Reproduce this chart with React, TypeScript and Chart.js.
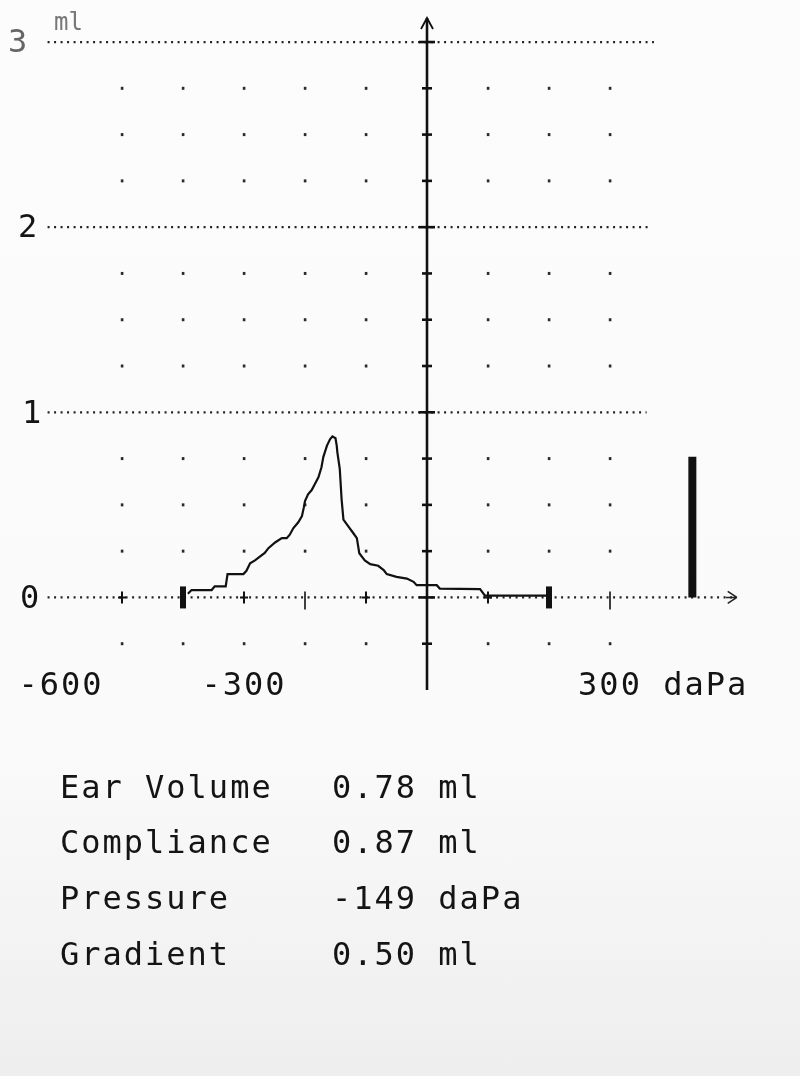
import React, { useEffect, useRef } from "react";
import { Chart, registerables } from "chart.js";

Chart.register(...registerables);

// Tympanogram curve: pressure (daPa) vs compliance (ml)
const pressureDaPa = [
  -392, -386, -353, -348, -330, -327, -301, -296, -290, -282, -274, -266, -260, -249, -238, -230,
  -225, -219, -211, -205, -202, -200, -195, -189, -184, -178, -173, -170, -164, -159, -155, -150,
  -148, -147, -143, -140, -137, -129, -121, -115, -111, -102, -93, -80, -71, -66, -50, -33, -22,
  -17, 16, 21, 87, 95, 200,
];
const complianceMl = [
  0.02, 0.04, 0.04, 0.06, 0.06, 0.126, 0.126, 0.144, 0.184, 0.2, 0.22, 0.24, 0.266, 0.297, 0.32,
  0.32, 0.339, 0.375, 0.406, 0.439, 0.485, 0.52, 0.557, 0.58, 0.612, 0.649, 0.703, 0.758, 0.82,
  0.854, 0.87, 0.86, 0.82, 0.785, 0.694, 0.53, 0.42, 0.384, 0.348, 0.32, 0.239, 0.2, 0.18, 0.171,
  0.148, 0.126, 0.111, 0.102, 0.084, 0.066, 0.066, 0.048, 0.045, 0.01, 0.01,
];

// Ear volume indicator bar
const earVolumePosition = [435, 435];
const earVolumeBar = [0, 0.76];

// Axis labels
const yTickValues = [0, 1, 2, 3];
const yTickLabels = ["0", "1", "2", "3"];
const xLabelValues = [-600, -300, 300];
const xLabelTexts = ["-600", "-300", "300"];
const xUnit = "daPa";
const yUnit = "ml";

// Dot grid
const gridColumns = [-500, -400, -300, -200, -100, 100, 200, 300];
const gridRows = [-0.25, 0.25, 0.5, 0.75, 1.25, 1.5, 1.75, 2.25, 2.5, 2.75];
const boldTicks = [-400, 200];
const plusTicks = [-500, -300, -100, 100];
const barTicks = [-200, 300];

// Results table
const measureNames = ["Ear Volume", "Compliance", "Pressure", "Gradient"];
const measureValues = ["0.78 ml", "0.87 ml", "-149 daPa", "0.50 ml"];

const FONT = '"DejaVu Sans Mono", "Liberation Mono", monospace';
const INK = "#141414";

const printerPlugin = {
  id: "printerAxes",
  beforeDatasetsDraw(chart: any) {
    const ctx = chart.ctx as CanvasRenderingContext2D;
    const xs = chart.scales.x;
    const ys = chart.scales.y;
    const px = (v: number) => xs.getPixelForValue(v);
    const py = (v: number) => ys.getPixelForValue(v);
    ctx.save();

    // dotted horizontal lines
    ctx.strokeStyle = "#222";
    ctx.lineWidth = 2.2;
    ctx.setLineDash([2, 4.5]);
    [1, 2, 3].forEach((v) => {
      ctx.beginPath();
      ctx.moveTo(px(-622), py(v));
      ctx.lineTo(px(v === 3 ? 372 : v === 2 ? 366 : 360), py(v));
      ctx.stroke();
    });
    ctx.beginPath();
    ctx.moveTo(px(-622), py(0));
    ctx.lineTo(px(500), py(0));
    ctx.stroke();
    ctx.setLineDash([]);
    // x arrow
    ctx.lineWidth = 1.6;
    ctx.beginPath();
    ctx.moveTo(px(490), py(0));
    ctx.lineTo(px(508), py(0));
    ctx.moveTo(px(508), py(0));
    ctx.lineTo(px(493), py(0) - 6);
    ctx.moveTo(px(508), py(0));
    ctx.lineTo(px(493), py(0) + 6);
    ctx.stroke();

    // dot grid
    ctx.fillStyle = "#2a2a2a";
    gridColumns.forEach((c) => {
      gridRows.forEach((r) => {
        ctx.fillRect(px(c) - 1.2, py(r) - 1.5, 2.6, 3);
      });
    });

    // y axis
    const x0 = px(0);
    ctx.strokeStyle = "#111";
    ctx.lineWidth = 2.6;
    ctx.beginPath();
    ctx.moveTo(x0, py(-0.5));
    ctx.lineTo(x0, py(3.13));
    ctx.stroke();
    ctx.lineWidth = 1.8;
    ctx.beginPath();
    ctx.moveTo(x0 - 6, py(3.13) + 11);
    ctx.lineTo(x0, py(3.13));
    ctx.lineTo(x0 + 6, py(3.13) + 11);
    ctx.stroke();
    ctx.lineWidth = 2.6;
    for (let v = -0.25; v <= 3.001; v += 0.25) {
      const w = Math.abs(v - Math.round(v)) < 0.01 ? 8 : 5;
      ctx.beginPath();
      ctx.moveTo(x0 - w, py(v));
      ctx.lineTo(x0 + w, py(v));
      ctx.stroke();
    }

    // x ticks
    const y0 = py(0);
    ctx.fillStyle = "#111";
    boldTicks.forEach((t) => ctx.fillRect(px(t) - 3, y0 - 11, 6, 22));
    ctx.lineWidth = 2;
    plusTicks.forEach((t) => {
      ctx.beginPath();
      ctx.moveTo(px(t), y0 - 6);
      ctx.lineTo(px(t), y0 + 6);
      ctx.moveTo(px(t) - 4, y0);
      ctx.lineTo(px(t) + 4, y0);
      ctx.stroke();
    });
    ctx.lineWidth = 1.6;
    barTicks.forEach((t) => {
      ctx.beginPath();
      ctx.moveTo(px(t), y0 - 6);
      ctx.lineTo(px(t), y0 + 12);
      ctx.stroke();
    });

    // labels
    ctx.font = `32px ${FONT}`;
    (ctx as any).letterSpacing = "2px";
    ctx.textBaseline = "middle";
    ctx.textAlign = "left";
    const yLabelX = [20, 22, 18, 8];
    yTickValues.forEach((v, i) => {
      ctx.fillStyle = v === 3 ? "#666" : INK;
      ctx.fillText(yTickLabels[i], yLabelX[i], py(v) + 2);
    });
    ctx.fillStyle = "#777";
    ctx.font = `24px ${FONT}`;
    (ctx as any).letterSpacing = "0px";
    ctx.fillText(yUnit, 54, py(3) - 18);

    ctx.fillStyle = INK;
    ctx.font = `32px ${FONT}`;
    (ctx as any).letterSpacing = "2px";
    const ly = py(-0.48);
    xLabelValues.forEach((v, i) => {
      const w = ctx.measureText(xLabelTexts[i]).width;
      let text = xLabelTexts[i];
      if (i === xLabelValues.length - 1) text = text + " " + xUnit;
      ctx.fillText(text, px(v) - w / 2, ly);
    });
    ctx.restore();
  },
};

export default function App() {
  const canvasRef = useRef<HTMLCanvasElement | null>(null);

  useEffect(() => {
    const canvas = canvasRef.current;
    if (!canvas) return;
    const curve = pressureDaPa.map((p, i) => ({ x: p, y: complianceMl[i] }));
    const bar = earVolumePosition.map((p, i) => ({ x: p, y: earVolumeBar[i] }));
    const chart = new Chart(canvas, {
      type: "line",
      data: {
        datasets: [
          {
            label: "Compliance",
            data: curve,
            borderColor: "#111",
            borderWidth: 2.2,
            pointRadius: 0,
            tension: 0,
          },
          {
            label: "Ear Volume",
            data: bar,
            borderColor: "#111",
            borderWidth: 8,
            borderCapStyle: "butt",
            pointRadius: 0,
          },
        ],
      },
      options: {
        responsive: false,
        animation: false,
        events: [],
        layout: { padding: { left: 0, right: 68, top: 5, bottom: 386 } },
        plugins: { legend: { display: false }, tooltip: { enabled: false } },
        scales: {
          x: { type: "linear", min: -700, max: 500, display: false },
          y: { type: "linear", min: -0.5, max: 3.2, display: false },
        },
      },
      plugins: [printerPlugin],
    } as any);
    return () => chart.destroy();
  }, []);

  const rowY = [788, 843, 899, 955];
  const textStyle: React.CSSProperties = {
    position: "absolute",
    fontFamily: FONT,
    fontSize: 32,
    letterSpacing: "2px",
    lineHeight: "36px",
    color: INK,
    whiteSpace: "pre",
  };

  return (
    <div
      style={{
        position: "absolute",
        left: 0,
        top: 0,
        width: 800,
        height: 1076,
        background: "linear-gradient(#fcfcfc, #fafafa 70%, #eeeeee)",
        overflow: "hidden",
      }}
    >
      <canvas ref={canvasRef} width={800} height={1076} style={{ display: "block" }} />
      {measureNames.map((name, i) => (
        <React.Fragment key={name}>
          <div style={{ ...textStyle, left: 60, top: rowY[i] - 19 }}>{name}</div>
          <div style={{ ...textStyle, left: 332, top: rowY[i] - 19 }}>{measureValues[i]}</div>
        </React.Fragment>
      ))}
    </div>
  );
}
